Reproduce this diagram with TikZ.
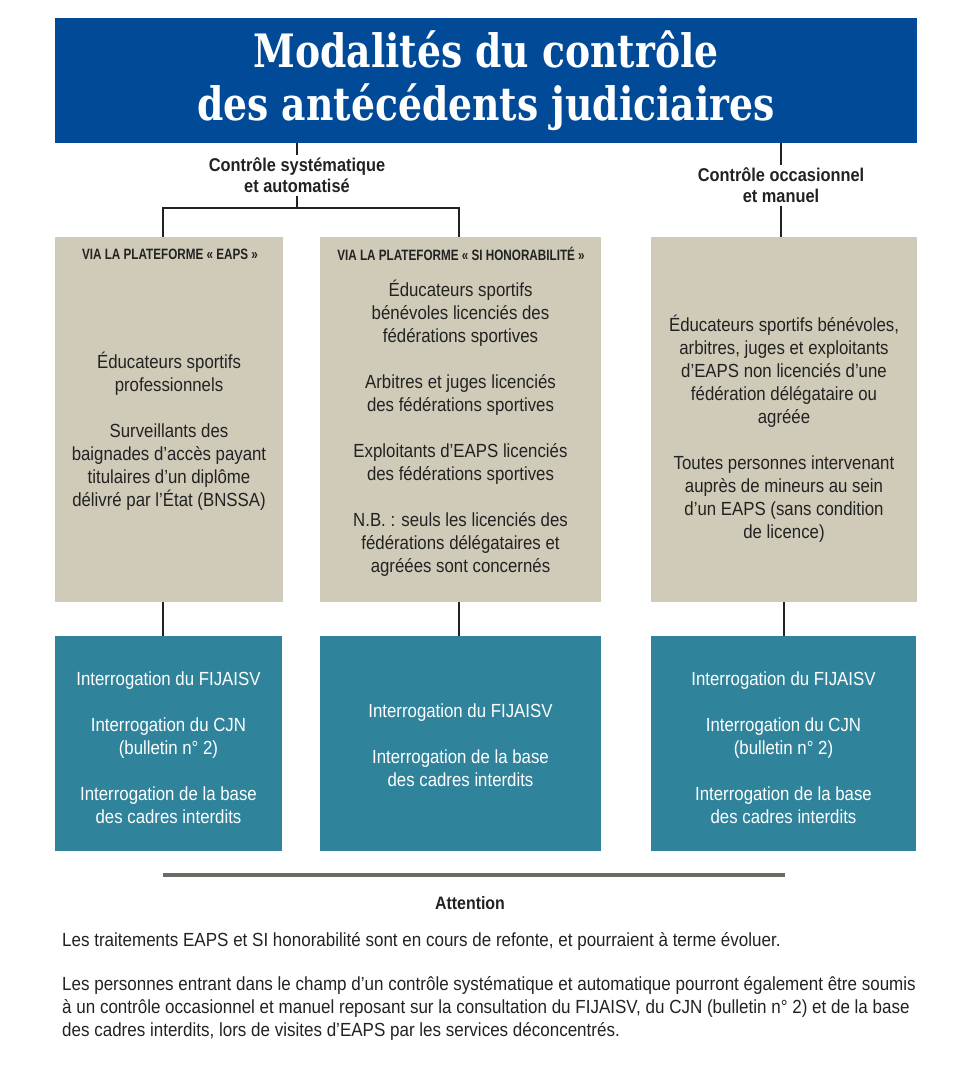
\documentclass[tikz,border=0pt]{standalone}
\usepackage{fontspec}
\setmainfont{Liberation Sans}
\newfontfamily\bodyfont[FakeStretch=0.885]{Liberation Sans}
\newfontfamily\footfont[FakeStretch=0.895]{Liberation Sans}
\newfontfamily\headfont[FakeStretch=0.78]{Liberation Sans}
\newfontfamily\titlefont[FakeStretch=0.82]{DejaVu Serif}
\definecolor{titleblue}{HTML}{004A98}
\definecolor{beige}{HTML}{D0CBB8}
\definecolor{teal}{HTML}{2F849C}
\definecolor{ink}{HTML}{222222}
\definecolor{rulegray}{HTML}{6B6B66}
\tikzset{
  bluebox/.style={fill=titleblue, draw=none, inner sep=0pt, minimum width=862pt, minimum height=125pt},
  beigebox/.style={fill=beige, draw=none, inner sep=0pt, minimum height=365pt},
  tealbox/.style={fill=teal, draw=none, inner sep=0pt, minimum height=215pt},
  titletext/.style={text=white, align=center, font=\titlefont\bfseries\fontsize{46}{53}\selectfont, inner sep=0pt},
  cattext/.style={text=ink, align=center, font=\bodyfont\bfseries\fontsize{18.5}{21}\selectfont, inner sep=3pt},
  headtext/.style={text=ink, align=center, font=\headfont\bfseries\fontsize{15}{17}\selectfont, inner sep=0pt},
  bodytext/.style={text=ink, align=center, font=\bodyfont\fontsize{19}{23}\selectfont, inner sep=0pt},
  whitetext/.style={text=white, align=center, font=\bodyfont\fontsize{19}{23}\selectfont, inner sep=0pt},
  foottext/.style={text=ink, align=left, font=\footfont\fontsize{19}{23}\selectfont, inner sep=0pt},
  link/.style={draw=ink, line width=1.6pt},
}
\begin{document}
\begin{tikzpicture}[x=1pt,y=-1pt]
\useasboundingbox (0,0) rectangle (975,1067);
% title
\node[bluebox] (title) at (486,80.5) {};
\node[titletext] (titletxt) at (486,81) {Modalités du contrôle\\des antécédents judiciaires};
% categories
\node[cattext] (cat1) at (297,175.5) {Contrôle systématique\\et automatisé};
\node[cattext] (cat2) at (781,185.5) {Contrôle occasionnel\\et manuel};
% beige boxes
\node[beigebox, minimum width=228pt] (b1) at (169,419.5) {};
\node[beigebox, minimum width=281pt] (b2) at (460.5,419.5) {};
\node[beigebox, minimum width=266pt] (b3) at (784,419.5) {};
% teal boxes
\node[tealbox, minimum width=227pt] (t1) at (168.5,743.5) {};
\node[tealbox, minimum width=281pt] (t2) at (460.5,743.5) {};
\node[tealbox, minimum width=265pt] (t3) at (783.5,743.5) {};
% headers
\node[headtext] (h1) at (170,254) {VIA LA PLATEFORME « EAPS »};
\node[headtext] (h2) at (461,254) {VIA LA PLATEFORME « SI HONORABILITÉ »};
% beige contents
\node[bodytext] (c1) at (169,431) {Éducateurs sportifs\\professionnels\\[23pt]Surveillants des\\baignades d’accès payant\\titulaires d’un diplôme\\délivré par l’État (BNSSA)};
\node[bodytext] (c2) at (460.5,428) {Éducateurs sportifs\\bénévoles licenciés des\\fédérations sportives\\[23pt]Arbitres et juges licenciés\\des fédérations sportives\\[23pt]Exploitants d’EAPS licenciés\\des fédérations sportives\\[23pt]N.B. : seuls les licenciés des\\fédérations délégataires et\\agréées sont concernés};
\node[bodytext] (c3) at (784,428.5) {Éducateurs sportifs bénévoles,\\arbitres, juges et exploitants\\d’EAPS non licenciés d’une\\fédération délégataire ou\\agréée\\[23pt]Toutes personnes intervenant\\auprès de mineurs au sein\\d’un EAPS (sans condition\\de licence)};
% teal contents
\node[whitetext] (d1) at (168.5,747.5) {Interrogation du FIJAISV\\[23pt]Interrogation du CJN\\(bulletin n° 2)\\[23pt]Interrogation de la base\\des cadres interdits};
\node[whitetext] (d2) at (460.5,745) {Interrogation du FIJAISV\\[23pt]Interrogation de la base\\des cadres interdits};
\node[whitetext] (d3) at (783.5,747.5) {Interrogation du FIJAISV\\[23pt]Interrogation du CJN\\(bulletin n° 2)\\[23pt]Interrogation de la base\\des cadres interdits};
% connectors
\coordinate (j1) at (297,208);
\draw[link] (cat1.north) -- (cat1.north |- title.south);
\draw[link] (cat1.south) -- (j1);
\draw[link] ([xshift=-6pt]b1.north) |- (j1) -| ([xshift=-1.5pt]b2.north);
\draw[link] (cat2.north) -- (cat2.north |- title.south);
\draw[link] (cat2.south) -- (cat2.south |- b3.north);
\draw[link] ([xshift=-6pt]b1.south) -- ([xshift=-5.5pt]t1.north);
\draw[link] ([xshift=-1.5pt]b2.south) -- ([xshift=-1.5pt]t2.north);
\draw[link] ([xshift=0pt]b3.south) -- ([xshift=0.5pt]t3.north);
% footer
\draw[rulegray, line width=4pt] (163,875) -- (785,875);
\node[text=ink, font=\bodyfont\bfseries\fontsize{18}{21}\selectfont, inner sep=0pt] (att) at (470,903) {Attention};
\node[foottext, anchor=west] (f1) at (62,941) {Les traitements EAPS et SI honorabilité sont en cours de refonte, et pourraient à terme évoluer.};
\node[foottext, anchor=west] (f2) at (62,1008) {Les personnes entrant dans le champ d’un contrôle systématique et automatique pourront également être soumis\\à un contrôle occasionnel et manuel reposant sur la consultation du FIJAISV, du CJN (bulletin n° 2) et de la base\\des cadres interdits, lors de visites d’EAPS par les services déconcentrés.};
\end{tikzpicture}
\end{document}
